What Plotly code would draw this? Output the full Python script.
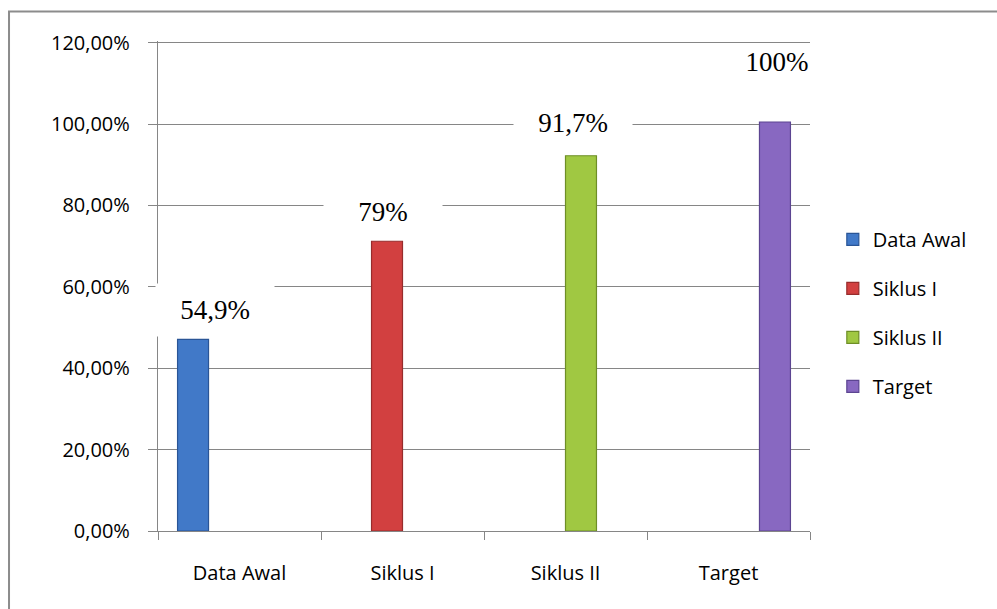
import plotly.graph_objects as go

categories = ["Data Awal", "Siklus I", "Siklus II", "Target"]
series_names = ["Data Awal", "Siklus I", "Siklus II", "Target"]
values = [47.1, 71.2, 92.2, 100.5]
label_texts = ["54,9%", "79%", "91,7%", "100%"]
tick_vals = [0, 20, 40, 60, 80, 100, 120]
tick_text = ["0,00%", "20,00%", "40,00%", "60,00%", "80,00%", "100,00%", "120,00%"]

# label placement (style, not data)
label_y = [54.2, 78.5, 100.3, 115.3]
label_xshift = [-25, -20, 7, 48]
label_box_h = [52, 40, 40, 32]

fill_colors = ["#4179C8", "#D24040", "#A0C842", "#8868C1"]
edge_colors = ["#2A5596", "#972C2C", "#6E8E27", "#5C4591"]

fig = go.Figure()
for name, cat, val, fc, ec in zip(series_names, categories, values, fill_colors, edge_colors):
    fig.add_trace(go.Bar(
        name=name, x=[cat], y=[val], legendgroup=name,
        offsetgroup=name, alignmentgroup="all",
        marker=dict(color=fc, line=dict(color=ec, width=1.2)),
        hoverinfo="skip",
    ))

for cat, txt, ly, xs, bh in zip(categories, label_texts, label_y, label_xshift, label_box_h):
    fig.add_annotation(
        x=cat, y=ly, xref="x", yref="y", text=txt, showarrow=False,
        xshift=xs, font=dict(family="Liberation Serif", size=27, color="#000000"),
        bgcolor="#FFFFFF", width=118, height=bh, borderpad=0,
    )

# outer chart border
fig.add_shape(type="rect", xref="paper", yref="paper",
              x0=-0.2285, x1=1.3, y0=-0.2, y1=1.06,
              line=dict(color="#8C8C8C", width=2), fillcolor="rgba(0,0,0,0)")

fig.update_layout(
    width=997, height=609,
    margin=dict(l=158, r=187, t=41, b=78),
    paper_bgcolor="#FFFFFF", plot_bgcolor="#FFFFFF",
    barmode="group", bargap=0.24, bargroupgap=0,
    font=dict(family="Open Sans", size=20, color="#000000"),
    showlegend=True,
    legend=dict(x=1.035, xanchor="left", y=0.445, yanchor="middle",
                font=dict(family="Open Sans", size=20, color="#000000"),
                tracegroupgap=20, itemwidth=30, bgcolor="rgba(0,0,0,0)"),
    xaxis=dict(type="category", categoryorder="array", categoryarray=categories,
               range=[-0.5, len(categories) - 0.5],
               showline=True, linecolor="#868686", linewidth=1.3,
               ticks="outside", tickson="boundaries", ticklen=8, tickcolor="#868686",
               tickwidth=1.3, showgrid=False, ticklabelstandoff=24,
               tickfont=dict(family="Open Sans", size=20)),
    yaxis=dict(range=[0, 120.4], tickvals=tick_vals, ticktext=tick_text,
               showline=True, linecolor="#868686", linewidth=1.3,
               ticks="outside", ticklen=9, tickcolor="#868686", tickwidth=1.3,
               showgrid=True, gridcolor="#868686", gridwidth=1.3,
               zeroline=False, ticklabelstandoff=14,
               tickfont=dict(family="Open Sans", size=20)),
)

fig.write_html("out.html")
